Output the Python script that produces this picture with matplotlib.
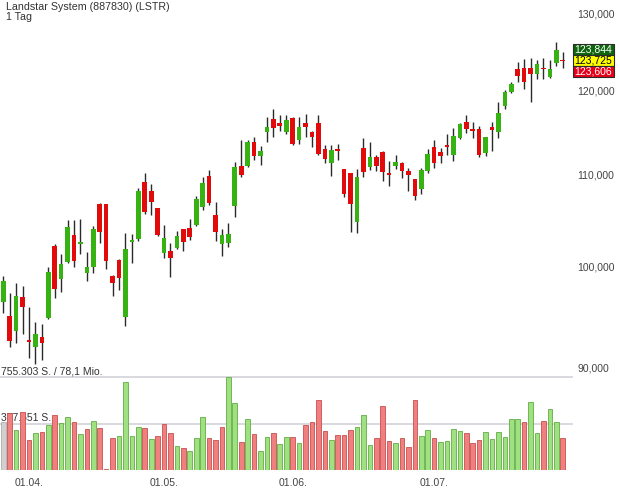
import numpy as np
import matplotlib
matplotlib.use('Agg')
from matplotlib import pyplot as plt
from matplotlib.patches import Rectangle
from matplotlib.ticker import NullLocator
from matplotlib.transforms import blended_transform_factory

plt.rcParams['font.family'] = ['Liberation Sans', 'DejaVu Sans']

#%% Daten (Tageskerzen, Handelstage ab 26.03.)
title = 'Landstar System (887830) (LSTR)'
interval = '1 Tag'

open_ = [96.36, 94.97, 93.49, 96.86, 92.58, 91.96, 92.92, 94.77, 102.09, 98.68,
         100.44, 103.26, 102.40, 99.24, 99.92, 106.65, 106.65, 98.96, 100.62, 94.87,
         102.62, 102.84, 109.08, 108.10, 106.17, 101.39, 101.57, 101.91, 103.87, 104.02,
         104.34, 106.35, 109.80, 105.43, 102.27, 102.44, 106.46, 110.94, 110.98, 113.70,
         112.10, 114.96, 116.45, 115.97, 114.89, 116.57, 113.97, 115.97, 114.96, 115.97,
         112.88, 111.25, 112.88, 110.56, 110.10, 104.70, 113.00, 110.86, 111.94, 112.60,
         110.13, 110.94, 111.25, 110.36, 109.45, 108.32, 110.40, 113.18, 112.53, 113.36,
         112.22, 114.17, 116.17, 115.32, 115.24, 112.41, 115.57, 114.89, 118.08, 119.84,
         122.66, 122.79, 122.86, 122.02, 122.82, 121.64, 123.41, 123.844]
high = [98.96, 97.26, 98.27, 97.94, 95.86, 94.37, 94.12, 99.86, 102.31, 101.25,
        104.89, 104.89, 104.96, 101.46, 104.24, 106.76, 106.70, 99.06, 100.72, 103.44,
        103.37, 108.43, 110.10, 108.85, 106.20, 104.34, 102.44, 103.69, 103.90, 105.00,
        107.57, 109.72, 110.48, 106.90, 103.91, 104.60, 111.37, 113.97, 113.97, 114.36,
        113.30, 116.77, 117.67, 116.98, 116.98, 116.69, 116.77, 117.06, 115.05, 116.98,
        113.38, 113.38, 113.50, 110.60, 110.15, 110.56, 114.17, 113.70, 112.22, 112.70,
        111.51, 112.22, 111.44, 110.67, 109.50, 110.67, 112.88, 113.97, 113.07, 114.64,
        115.44, 116.00, 116.98, 116.17, 115.68, 114.35, 116.17, 118.60, 120.05, 121.06,
        123.64, 123.95, 124.07, 123.85, 124.07, 123.85, 126.23, 124.92]
low = [95.20, 91.90, 92.28, 93.18, 90.86, 90.32, 90.70, 94.61, 96.70, 97.30,
       100.34, 99.86, 101.25, 98.48, 99.30, 102.46, 99.72, 96.93, 97.53, 93.95,
       100.34, 102.62, 105.54, 105.43, 103.15, 100.86, 98.89, 101.77, 101.60, 102.73,
       104.27, 105.98, 106.53, 102.65, 101.07, 102.02, 105.25, 109.72, 110.79, 111.63,
       111.06, 113.77, 114.36, 115.04, 114.68, 113.38, 113.47, 114.36, 113.18, 112.22,
       111.25, 109.80, 111.63, 107.46, 103.55, 103.44, 109.72, 110.48, 110.40, 109.23,
       108.66, 110.60, 109.61, 108.13, 107.09, 107.76, 110.13, 110.75, 111.25, 112.22,
       111.51, 114.05, 114.77, 114.17, 111.94, 112.13, 112.68, 114.17, 117.70, 119.64,
       121.09, 120.17, 118.53, 121.42, 121.39, 121.52, 123.13, 122.79]
close = [98.48, 92.53, 96.93, 95.86, 92.50, 93.18, 92.28, 99.40, 97.60, 100.20,
         104.09, 100.52, 102.45, 99.86, 103.87, 103.62, 100.55, 98.21, 98.79, 101.74,
         102.68, 108.10, 105.79, 106.90, 103.26, 102.99, 100.86, 103.15, 102.48, 103.08,
         107.20, 108.97, 106.72, 103.62, 103.26, 103.37, 110.79, 109.91, 113.70, 112.10,
         112.72, 115.49, 115.44, 115.68, 116.37, 113.50, 115.57, 115.50, 114.28, 112.33,
         111.75, 112.80, 112.72, 107.76, 106.65, 109.64, 110.28, 112.01, 110.94, 110.28,
         109.91, 111.37, 110.40, 109.91, 107.57, 110.44, 112.30, 111.32, 112.13, 113.24,
         114.50, 115.85, 115.28, 115.04, 112.22, 114.29, 115.16, 117.17, 119.84, 120.76,
         121.85, 121.01, 122.02, 123.34, 122.70, 122.75, 125.18, 123.725]
volume = [392000, 460000, 325000, 469000, 244000, 298000, 311000, 365000, 447000, 379000,
          428000, 392000, 292000, 330000, 400000, 338000, 6000, 257000, 279000, 717000,
          279000, 352000, 344000, 249000, 276000, 371000, 303000, 195000, 176000, 157000,
          262000, 428000, 257000, 244000, 352000, 755303, 547000, 230000, 412000, 292000,
          157000, 271000, 303000, 211000, 271000, 265000, 222000, 363000, 387000, 569000,
          319000, 244000, 284000, 284000, 325000, 347000, 447000, 203000, 257000, 520000,
          236000, 222000, 257000, 189000, 569000, 279000, 322000, 257000, 230000, 236000,
          330000, 317000, 298000, 217000, 244000, 311000, 249000, 311000, 271000, 414000,
          412000, 392000, 550000, 298000, 400000, 493000, 392000, 257000]

date_ticks = [4, 25, 45, 67]
date_labels = ['01.04.', '01.05.', '01.06.', '01.07.']
price_ticks = [90, 100, 110, 120, 130]
quote_values = [123.844, 123.725, 123.606]
vol_max = 755303
vol_mid = 377651
vol_max_text = '755.303 S. / 78,1 Mio.'
vol_mid_text = '377.651 S.'

#%% Figure
W, H = 620, 496
fig = plt.figure(figsize=(W / 100, H / 100), dpi=100)


def px_rect(x0, y0, x1, y1):
    return [x0 / W, 1 - y1 / H, (x1 - x0) / W, (y1 - y0) / H]


ax = fig.add_axes(px_rect(0, 0, 572, 377))
axv = fig.add_axes(px_rect(0, 377, 572, 470), sharex=ax)

o = np.array(open_)
h = np.array(high)
l = np.array(low)
c = np.array(close)
v = np.array(volume)
x = np.arange(len(c))

green = '#36b312'
red = '#e20b0b'
wick = '#2a2a2a'
txt = '#444444'

#%% Kerzen
ax.set_yscale('log')
ax.vlines(x, l, h, color=wick, lw=1.0, zorder=1)
up = c >= o
mid = (o + c) / 2
body = np.maximum(np.abs(c - o), 0.22)
ax.bar(x, body, bottom=mid - body / 2, width=0.72,
       color=np.where(up, green, red), linewidth=0, zorder=2)

ax.set_xlim(-0.513, 88.44)
ax.set_ylim(89.115, 131.81)
ax.set_yticks(price_ticks)
ax.yaxis.set_minor_locator(NullLocator())
ax.set_yticklabels([f'{p:.3f}'.replace('.', ',') for p in price_ticks])
ax.yaxis.tick_right()
ax.tick_params(axis='y', length=0, pad=3.6, labelsize=7.5, labelcolor=txt)
ax.tick_params(axis='x', length=0, labelbottom=False)
for s in ax.spines.values():
    s.set_visible(False)

#%% Volumen
prev = np.r_[np.nan, c[:-1]]
vol_face = np.where(c > prev, '#9fe080', np.where(c < prev, '#f07f7f', '#d0d0d0'))
vol_edge = np.where(c > prev, '#62ad45', np.where(c < prev, '#c95050', '#b0b0b0'))
axv.bar(x, v, width=0.72, color=vol_face, edgecolor=vol_edge, linewidth=0.6, zorder=2)
axv.set_ylim(0, vol_max)
for lev in (vol_max, vol_mid):
    axv.axhline(lev, color='#d6d6dc', lw=1.3, zorder=0, clip_on=False)
axv.annotate(vol_max_text, xy=(0, vol_max), xycoords=('axes fraction', 'data'),
             xytext=(0.5, 4.3), textcoords='offset points', va='center', ha='left',
             fontsize=7.5, color='#333333', zorder=0.5, annotation_clip=False)
axv.annotate(vol_mid_text, xy=(0, vol_mid), xycoords=('axes fraction', 'data'),
             xytext=(0.5, 4.0), textcoords='offset points', va='center', ha='left',
             fontsize=7.5, color='#333333', zorder=0.5)
axv.set_yticks([])
axv.set_xticks(date_ticks, date_labels)
axv.tick_params(axis='x', length=0, pad=5.5, labelsize=7.5, labelcolor=txt)
for s in axv.spines.values():
    s.set_visible(False)

#%% Titel
fig.text(6 / W, 1 - 6.7 / H, title, va='center', ha='left', fontsize=7.7, color='#333333')
fig.text(6 / W, 1 - 16.5 / H, interval, va='center', ha='left', fontsize=7.7, color='#333333')

#%% Kursboxen am rechten Rand
y_last = ax.transData.transform((0, c[-1]))[1]
box_cols = ['#0d650d', '#ffff00', '#e5001b']
box_txt = ['white', 'black', 'white']
bx0, bx1, bh = 573, 614, 11
for k, (q, fc, tc) in enumerate(zip(quote_values, box_cols, box_txt)):
    yc = y_last + (1 - k) * bh
    fig.patches.append(Rectangle((bx0 / W, (yc - bh / 2) / H), (bx1 - bx0) / W, bh / H,
                                 transform=fig.transFigure, facecolor=fc,
                                 edgecolor='#2b2b2b', lw=0.8))
    fig.text((bx0 + bx1) / 2 / W, yc / H, f'{q:.3f}'.replace('.', ','), ha='center',
             va='center', fontsize=7.5, color=tc)

fig.savefig('out.png', dpi=100)
